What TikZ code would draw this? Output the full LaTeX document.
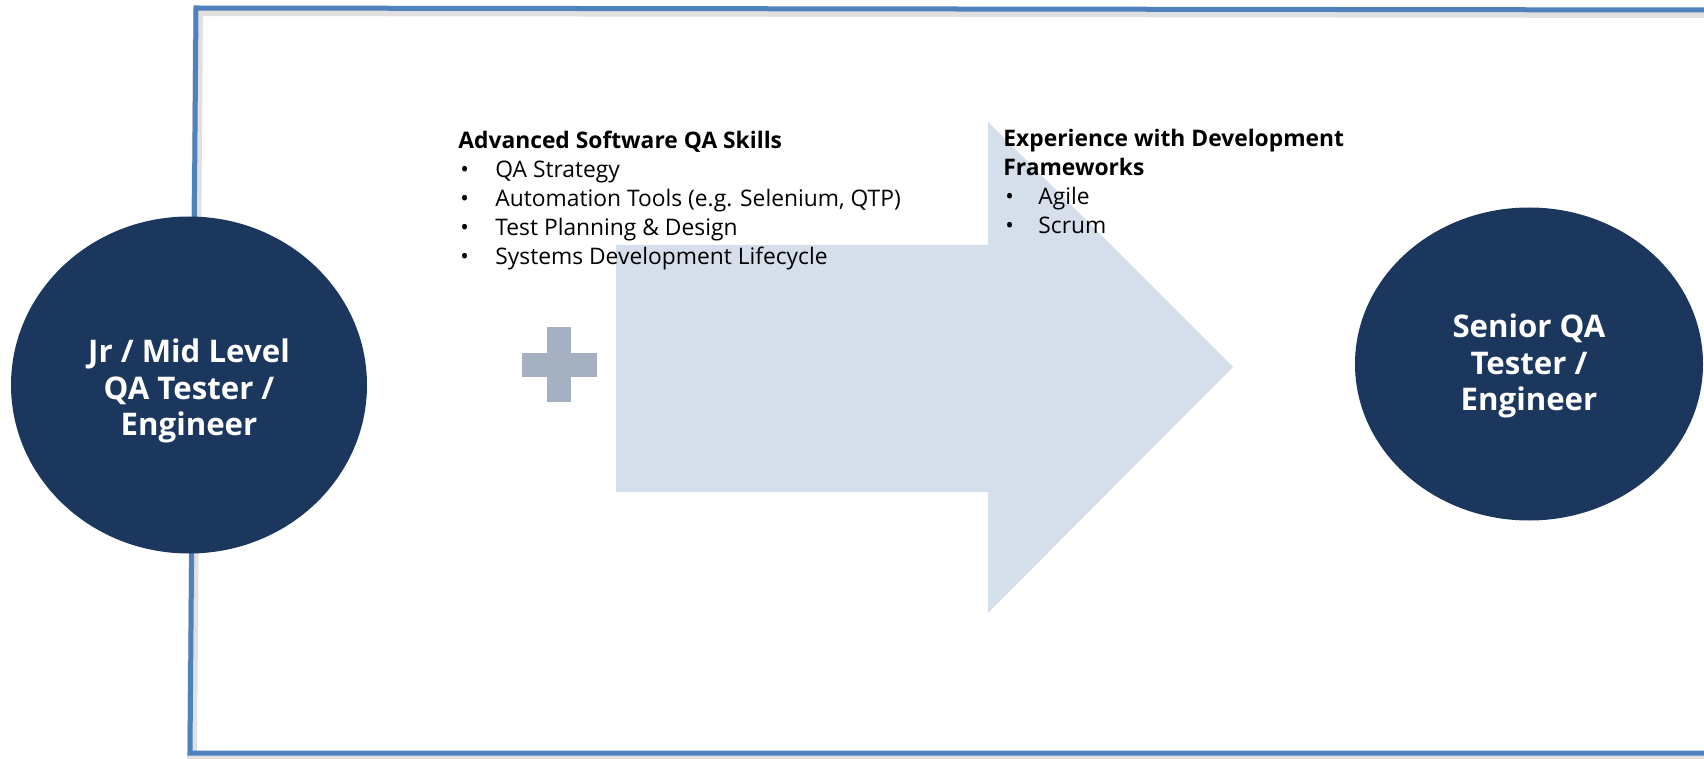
\documentclass[tikz,border=0pt]{standalone}
\usepackage{fontspec}
\setmainfont{Open Sans}
\usetikzlibrary{shapes.geometric}

\definecolor{navy}{HTML}{1B375E}
\definecolor{frameblue}{HTML}{4F81BD}
\definecolor{arrowfill}{HTML}{D5DFEB}
\definecolor{plusgray}{HTML}{A5B1C1}

\newcommand{\skillitem}[2][18.5pt]{\makebox[#1][l]{\hspace{1pt}\textbullet}#2}

\begin{document}
\begin{tikzpicture}[x=0.5pt,y=-0.5pt,
  level/.style={ellipse,fill=navy,inner sep=0pt},
  leveltext/.style={text=white,inner sep=0pt,align=center,
    font=\fontsize{15.6}{18.3}\selectfont\bfseries},
  skills/.style={anchor=north west,inner sep=0pt,align=left,
    font=\fontsize{11.4}{14.5}\selectfont}]
  \useasboundingbox (0,0) rectangle (1704,759);
  \clip (0,0) rectangle (1704,759);
  % frame, with a soft shadow
  \draw[black,opacity=.12,line width=5pt] (198,11) -- (1712,13) -- (1712,756) -- (192,756) -- cycle;
  \draw[frameblue,line width=2.5pt] (196,8) -- (1712,10) -- (1712,753) -- (190,753) -- cycle;
  % big arrow
  \fill[arrowfill] (616,245) -- (988,245) -- (988,122) -- (1233,367)
    -- (988,613) -- (988,492) -- (616,492) -- cycle;
  % plus
  \fill[plusgray] (547,327) rectangle (571,402);
  \fill[plusgray] (522,353) rectangle (597,377);
  % levels
  \node[level,minimum width=178pt,minimum height=168.5pt] (jr) at (189,385) {};
  \node[leveltext] (jrtext) at ([yshift=-3pt]jr.center)
    {Jr / Mid Level\\QA Tester /\\Engineer};
  \node[level,minimum width=174pt,minimum height=156.5pt] (sr) at (1529,364) {};
  \node[leveltext] (srtext) at ([yshift=-1pt]sr.center)
    {Senior QA\\Tester /\\Engineer};
  % skill lists
  \node[skills] (qa) at (458,131) {\textbf{Advanced Software QA Skills}\\
    \skillitem{QA Strategy}\\
    \skillitem{Automation Tools (e.g. Selenium, QTP)}\\
    \skillitem{Test Planning \& Design}\\
    \skillitem{Systems Development Lifecycle}};
  \node[skills] (dev) at (1003,129) {\textbf{Experience with Development}\\
    \textbf{Frameworks}\\
    \skillitem[17.5pt]{Agile}\\
    \skillitem[17.5pt]{Scrum}};
\end{tikzpicture}
\end{document}
